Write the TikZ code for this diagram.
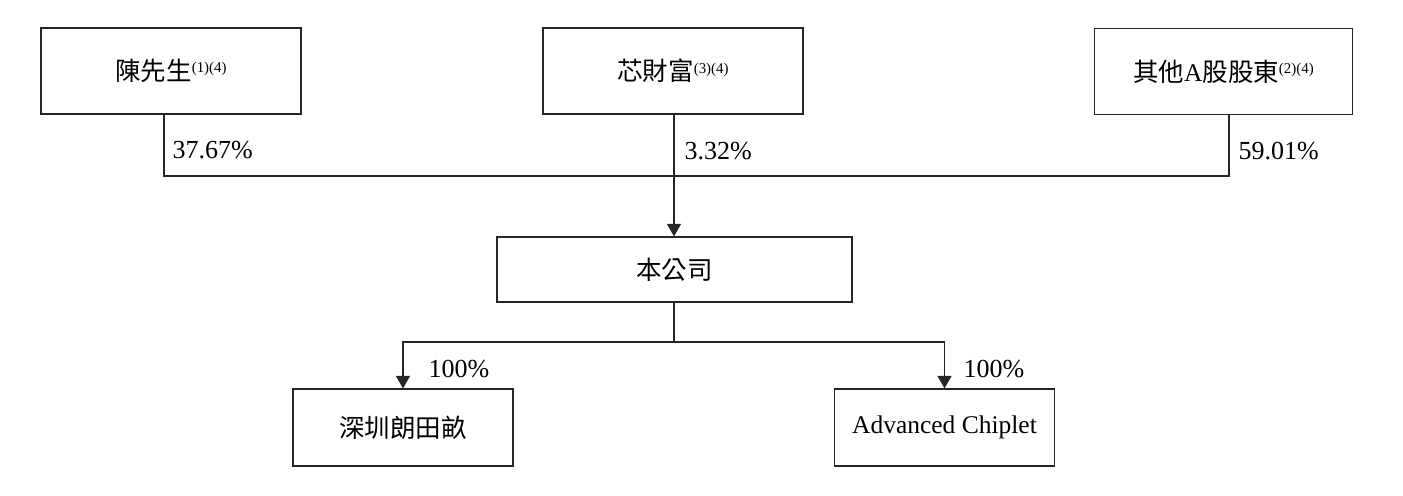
\documentclass[tikz,border=0pt]{standalone}
\usepackage{fontspec}
\setmainfont{Liberation Serif}
\newfontfamily\cjk{Noto Sans CJK TC}
\usetikzlibrary{arrows.meta}

\newcommand\Note[1]{\raisebox{.3em}{\fontsize{8.5}{10}\selectfont #1}}

\begin{document}
\begin{tikzpicture}[x=0.02cm,y=-0.02cm,line width=.7pt,
    holder/.style={draw=black!85, minimum width=5.2cm, minimum height=1.72cm, inner sep=0pt,
        font=\fontsize{14.5}{17}\selectfont},
    company/.style={draw=black!85, minimum width=4.4cm, minimum height=1.54cm, inner sep=0pt,
        font=\fontsize{14.5}{17}\selectfont},
    pct/.style={inner sep=0pt, anchor=base west, font=\fontsize{14.8}{17}\selectfont},
    tip/.style={-{Triangle[width=0.28cm,length=0.25cm]}}]
    \useasboundingbox (0,0) rectangle (1403,495);

    % shareholders
    \node[holder] (chen) at (171,71) {{\cjk 陳先生}\Note{(1)(4)}};
    \node[holder] (xin) at (673,71) {{\cjk 芯財富}\Note{(3)(4)}};
    \node[holder, minimum width=5.16cm] (others) at (1223.5,71.5) {{\cjk 其他}A{\cjk 股股東}\Note{(2)(4)}};

    % the company
    \node[holder, minimum width=7.1cm, minimum height=1.3cm] (firm) at (674.5,269.5) {\cjk 本公司};

    % subsidiaries
    \node[company] (sz) at (403,427.5) {\cjk 深圳朗田畝};
    \node[company] (adv) at (944.5,427.5) {Advanced Chiplet};

    \coordinate (c1) at (164,176);
    \coordinate (c3) at (1229,176);
    \coordinate (split) at (674,342);

    \begin{scope}[draw=black!85]
    \draw (chen.south -| c1) -- (c1) -- (c3) -- (others.south -| c3);
    \draw[tip] (xin.south -| split) -- (firm.north -| split);
    \draw (firm.south -| split) -- (split);
    \draw[tip] (split) -| (sz.north);
    \draw[tip] (split) -| (adv.north);
    \end{scope}

    \node[pct] (p1) at (172,158) {37.67\%};
    \node[pct] (p2) at (684,159) {3.32\%};
    \node[pct] (p3) at (1238,159) {59.01\%};
    \node[pct] (p4) at (428,377) {100\%};
    \node[pct] (p5) at (963,377) {100\%};
\end{tikzpicture}
\end{document}
